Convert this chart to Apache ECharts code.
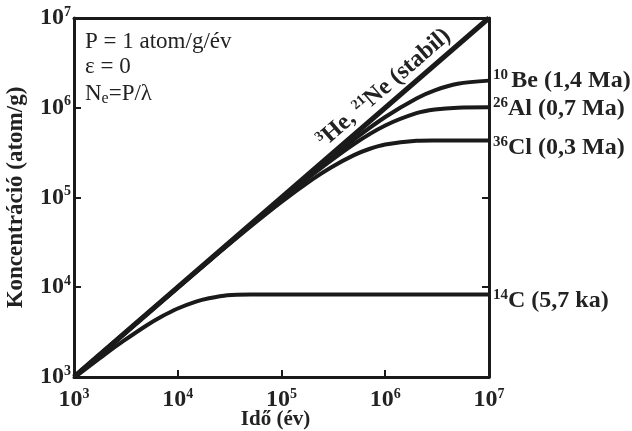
<!DOCTYPE html>
<html><head><meta charset="utf-8">
<script src="https://cdn.jsdelivr.net/npm/echarts@6/dist/echarts.min.js"></script>
<style>html,body{margin:0;padding:0;background:#fff}#c{width:632px;height:431px}</style>
</head><body><div id="c"></div>
<script>
// Time points (years) and concentrations (atom/g)
const tStable = [1e3, 1e7];
const nStable = [1e3, 1e7];
const tC14 = [1e3, 2e3, 3e3, 5e3, 7e3, 1e4, 1.5e4, 2e4, 3e4, 5e4, 1e5, 1e6, 1e7];
const nC14 = [980, 1800, 2520, 3750, 4720, 5800, 6920, 7530, 8150, 8300, 8300, 8300, 8300];
const tCl36 = [1e3, 1e4, 2e4, 5e4, 1e5, 2e5, 3e5, 5e5, 7e5, 1e6, 2e6, 3e6, 5e6, 1e7];
const nCl36 = [1000, 9890, 19550, 47200, 89300, 160100, 216400, 296500, 346900, 389900, 428500, 432400, 432800, 432800];
const tAl26 = [1e3, 1e4, 1e5, 2e5, 5e5, 1e6, 2e6, 3e6, 5e6, 1e7];
const nAl26 = [1000, 9950, 95200, 181400, 394400, 634700, 870500, 958100, 1002700, 1009900];
const tBe10 = [1e3, 1e4, 1e5, 2e5, 5e5, 1e6, 2e6, 3e6, 5e6, 1e7];
const nBe10 = [1000, 9980, 97560, 190400, 442900, 788700, 1269400, 1562500, 1849900, 2005500];
const seriesNames = ['10|Be (1,4 Ma)', '26|Al (0,7 Ma)', '36|Cl (0,3 Ma)', '14|C (5,7 ka)'];
const xTicks = [1e3, 1e4, 1e5, 1e6, 1e7];
const yTicks = [1e3, 1e4, 1e5, 1e6, 1e7];

const FONT = '"Liberation Serif", "DejaVu Serif", serif';
const zip = (a, b) => a.map((v, i) => [v, b[i]]);
const expLabel = v => '{b|10}{s|' + Math.round(Math.log10(v)) + '}';
const richTick = {
  b: {fontFamily: FONT, fontWeight: 'bold', fontSize: 24, color: '#222'},
  s: {fontFamily: FONT, fontWeight: 'bold', fontSize: 14, color: '#222', padding: [0, 0, 12, 0]}
};
const richEnd = {
  s: {fontFamily: FONT, fontWeight: 'bold', fontSize: 15, color: '#222', padding: [0, 0, 11, 0]},
  t: {fontFamily: FONT, fontWeight: 'bold', fontSize: 24, color: '#222'}
};
function endLbl(name, dy, gap) {
  const p = name.split('|');
  return {show: true, formatter: '{s|' + p[0] + '}' + gap + '{t|' + p[1] + '}', rich: richEnd, distance: 4, offset: [0, dy]};
}
const lineStyle = w => ({color: '#1a1a1a', width: w});

const chart = echarts.init(document.getElementById('c'), null, {renderer: 'canvas'});
const axisLine = {show: true, lineStyle: {color: '#1a1a1a', width: 3}};
chart.setOption({
  animation: false,
  backgroundColor: '#fff',
  grid: {left: 74, right: 143, top: 18, bottom: 54, containLabel: false, outerBoundsMode: 'none'},
  xAxis: [{
    type: 'log', logBase: 10, min: 1e3, max: 1e7,
    axisLine, splitLine: {show: false}, minorTick: {show: false},
    axisTick: {show: true, inside: true, length: 7, lineStyle: {color: '#1a1a1a', width: 2}},
    axisLabel: {formatter: expLabel, rich: richTick, margin: 10, showMinLabel: true, showMaxLabel: true},
    name: 'Idő (év)', nameLocation: 'middle', nameGap: 32, nameMoveOverlap: false,
    nameTextStyle: {fontFamily: FONT, fontWeight: 'bold', fontSize: 21, color: '#222', padding: [0, 12, 0, 0]}
  }, {
    type: 'log', logBase: 10, min: 1e3, max: 1e7, position: 'top',
    axisLine, axisTick: {show: false}, axisLabel: {show: false}, splitLine: {show: false}
  }],
  yAxis: [{
    type: 'log', logBase: 10, min: 1e3, max: 1e7,
    axisLine, splitLine: {show: false},
    axisTick: {show: true, inside: true, length: 7, lineStyle: {color: '#1a1a1a', width: 2}},
    axisLabel: {formatter: expLabel, rich: richTick, margin: 3, showMinLabel: true, showMaxLabel: true},
    name: 'Koncentráció (atom/g)', nameLocation: 'middle', nameGap: 46, nameRotate: 90, nameMoveOverlap: false,
    nameTextStyle: {fontFamily: FONT, fontWeight: 'bold', fontSize: 23, color: '#222', padding: [0, 0, 0, 0]}
  }, {
    type: 'log', logBase: 10, min: 1e3, max: 1e7, position: 'right',
    axisLine, splitLine: {show: false}, axisLabel: {show: false},
    axisTick: {show: true, inside: true, length: 7, lineStyle: {color: '#1a1a1a', width: 2}}
  }],
  series: [
    {type: 'line', name: 'stabil', data: zip(tStable, nStable), showSymbol: false, lineStyle: lineStyle(5), z: 3},
    {type: 'line', name: 'Be', data: zip(tBe10, nBe10), showSymbol: false, smooth: 0.3, lineStyle: lineStyle(4), endLabel: endLbl(seriesNames[0], 0, ' ')},
    {type: 'line', name: 'Al', data: zip(tAl26, nAl26), showSymbol: false, smooth: 0.3, lineStyle: lineStyle(4), endLabel: endLbl(seriesNames[1], 1, '')},
    {type: 'line', name: 'Cl', data: zip(tCl36, nCl36), showSymbol: false, smooth: 0.3, lineStyle: lineStyle(4), endLabel: endLbl(seriesNames[2], 7, '')},
    {type: 'line', name: 'C', data: zip(tC14, nC14), showSymbol: false, smooth: 0.3, lineStyle: lineStyle(4), endLabel: endLbl(seriesNames[3], 6, '')}
  ],
  graphic: [
    {type: 'text', x: 85, y: 42, style: {text: 'P = 1 atom/g/év', font: '23px ' + FONT, fill: '#222', verticalAlign: 'middle'}},
    {type: 'text', x: 85, y: 67, style: {text: 'ε = 0', font: '23px ' + FONT, fill: '#222', verticalAlign: 'middle'}},
    {type: 'text', x: 85, y: 94, style: {
      text: 'N{sub|e}=P/λ', font: '23px ' + FONT, fill: '#222', verticalAlign: 'middle',
      rich: {sub: {font: '16px ' + FONT, fill: '#222', padding: [9, 0, 0, 0]}}
    }},
    {type: 'text', x: 384, y: 88, rotation: 0.714, style: {
      text: '{s|3}{t|He, }{s|21}{t|Ne (stabil)}', align: 'center', verticalAlign: 'middle',
      rich: {
        s: {font: 'bold 14px ' + FONT, fill: '#222', padding: [0, 0, 11, 0]},
        t: {font: 'bold 24px ' + FONT, fill: '#222'}
      }
    }}
  ]
});
</script></body></html>
